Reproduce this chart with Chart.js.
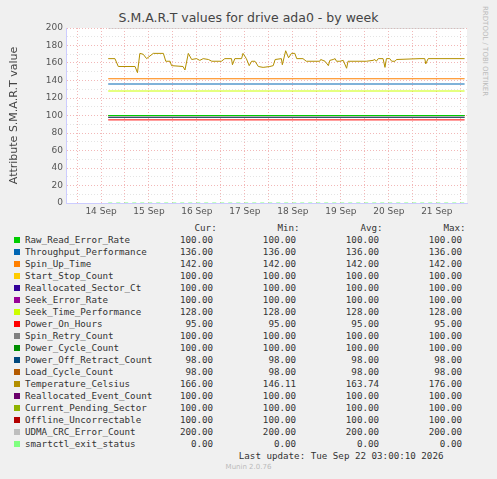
<!DOCTYPE html>
<html><head><meta charset="utf-8">
<script src="https://cdn.jsdelivr.net/npm/chart.js@4"></script>
<style>
body{margin:0;background:#f0f0f0;width:497px;height:479px;position:relative;overflow:hidden;font-family:"DejaVu Sans",sans-serif}
#title{position:absolute;left:0;width:497px;top:10px;text-align:center;font-size:12.5px;color:#444}
#rrd{position:absolute;left:481px;top:6px;writing-mode:vertical-rl;font-size:7px;color:#bbb}
#wrap{position:absolute;left:0;top:0;width:497px;height:222px}
#legend{position:absolute;left:12px;top:222px;font-family:"DejaVu Sans Mono",monospace;font-size:9.2px;color:#333;white-space:pre;line-height:12px}
.sw{display:inline-block;width:6px;height:6px;margin:0 5px 0 2px}
#munin{position:absolute;left:0;width:497px;top:463px;text-align:center;font-size:7px;color:#bbb}
</style></head><body>
<div id="title">S.M.A.R.T values for drive ada0 - by week</div>
<div id="rrd">RRDTOOL / TOBI OETIKER</div>
<div id="wrap"><canvas id="c"></canvas></div>
<div id="legend"></div>
<div id="munin">Munin 2.0.76</div>
<script>
const seriesNames = ['Raw_Read_Error_Rate','Throughput_Performance','Spin_Up_Time','Start_Stop_Count','Reallocated_Sector_Ct','Seek_Error_Rate','Seek_Time_Performance','Power_On_Hours','Spin_Retry_Count','Power_Cycle_Count','Power_Off_Retract_Count','Load_Cycle_Count','Temperature_Celsius','Reallocated_Event_Count','Current_Pending_Sector','Offline_Uncorrectable','UDMA_CRC_Error_Count','smartctl_exit_status'];
const seriesColors = ['#00cc00','#0066b3','#ff8000','#ffcc00','#330099','#990099','#ccff00','#ff0000','#808080','#008f00','#00487d','#b35a00','#b38f00','#6b006b','#8fb300','#b30000','#bebebe','#80ff80'];
const curVals = [100,136,142,100,100,100,128,95,100,100,98,98,166,100,100,100,200,0];
const minVals = [100,136,142,100,100,100,128,95,100,100,98,98,146.11,100,100,100,200,0];
const avgVals = [100,136,142,100,100,100,128,95,100,100,98,98,163.74,100,100,100,200,0];
const maxVals = [100,136,142,100,100,100,128,95,100,100,98,98,176,100,100,100,200,0];
// temperature trace: day of September, value
const tempDays = [14.15,14.29,14.36,14.71,14.76,14.81,14.88,14.95,15.09,15.30,15.35,15.44,15.47,15.71,15.75,15.82,15.89,15.99,16.06,16.13,16.24,16.31,16.51,16.58,16.72,16.74,16.79,16.93,16.96,17.03,17.09,17.14,17.21,17.28,17.38,17.52,17.59,17.63,17.76,17.78,17.85,17.91,17.97,18.04,18.08,18.21,18.28,18.56,18.58,18.67,18.74,18.77,18.84,18.88,18.91,18.98,19.05,19.12,19.15,19.53,19.67,19.71,19.74,19.78,19.88,19.92,19.95,20.02,20.06,20.13,20.16,20.65,20.75,20.77,20.82,21.58];
const tempVals = [165,165,156,156,149,171,170,165,171,171,162,162,157,156,152,171,164,165,163,165,164,162,162,165,165,158,165,165,171,165,157,162,162,156,155,156,157,164,165,158,174,166,171,171,165,165,162,162,164,162,157,163,164,165,162,162,163,154,162,162,163,164,162,165,165,155,165,165,162,162,164,165,165,159,165,165];
const startDay = 14.15, endDay = 21.58;
const xMin = 13.27, xMax = 21.63;

const datasets = seriesNames.map((n, i) => ({
  label: n,
  data: i === 12 ? tempDays.map((d, k) => ({x: d, y: tempVals[k]}))
                 : [{x: startDay, y: curVals[i]}, {x: endDay, y: curVals[i]}],
  borderColor: seriesColors[i],
  borderWidth: 1,
  borderDash: i === 17 ? [4, 4] : [],
  pointRadius: 0,
  tension: 0
}));

const legend = document.getElementById('legend');
let html = ' '.repeat(33) + 'Cur:' + ' '.repeat(11) + 'Min:' + ' '.repeat(11) + 'Avg:' + ' '.repeat(11) + 'Max:\n';
seriesNames.forEach((n, i) => {
  html += '<span class="sw" style="background:' + seriesColors[i] + '"></span>' + n.padEnd(24) +
    curVals[i].toFixed(2).padStart(10) + minVals[i].toFixed(2).padStart(15) +
    avgVals[i].toFixed(2).padStart(15) + maxVals[i].toFixed(2).padStart(15) + '\n';
});
html += ' '.repeat(41) + 'Last update: Tue Sep 22 03:00:10 2026';
legend.innerHTML = html;

const bgPlugin = {
  id: 'bg',
  beforeDraw(chart) {
    const a = chart.chartArea, c = chart.ctx;
    c.save(); c.fillStyle = '#ffffff'; c.fillRect(a.left, a.top, a.right - a.left, a.bottom - a.top); c.restore();
  }
};

const tickFont = {family: 'DejaVu Sans', size: 9};
new Chart(document.getElementById('c'), {
  type: 'line',
  data: {datasets},
  plugins: [bgPlugin],
  options: {
    responsive: true, maintainAspectRatio: false, animation: false,
    layout: {padding: {top: 28, right: 30, left: 4, bottom: 0}},
    plugins: {legend: {display: false}, tooltip: {enabled: false}},
    scales: {
      x: {
        type: 'linear', min: xMin, max: xMax,
        afterBuildTicks(s) { const t = []; for (let v = 13.5; v <= 21.5; v += 0.5) t.push({value: v}); s.ticks = t; },
        afterFit(s) { s.height = 19; },
        ticks: {font: tickFont, color: '#555', maxRotation: 0, autoSkip: false,
          callback: v => Number.isInteger(v) ? v + ' Sep' : ''},
        grid: {color: '#f2b8b8', drawTicks: false},
        border: {color: '#ccccff', dash: [1, 2]}
      },
      y: {
        min: 0, max: 200,
        afterFit(s) { s.width = 62; },
        ticks: {stepSize: 10, font: tickFont, color: '#555', autoSkip: false,
          callback: v => v % 20 === 0 ? v : ''},
        grid: {color: ctx => ctx.tick.value % 20 === 0 ? '#f2b8b8' : '#e4e4e4', drawTicks: false},
        border: {color: '#ccccff', dash: [1, 2]},
        title: {display: true, text: 'Attribute S.M.A.R.T value', font: {family: 'DejaVu Sans', size: 11}, color: '#444'}
      }
    }
  }
});
</script>
</body></html>
